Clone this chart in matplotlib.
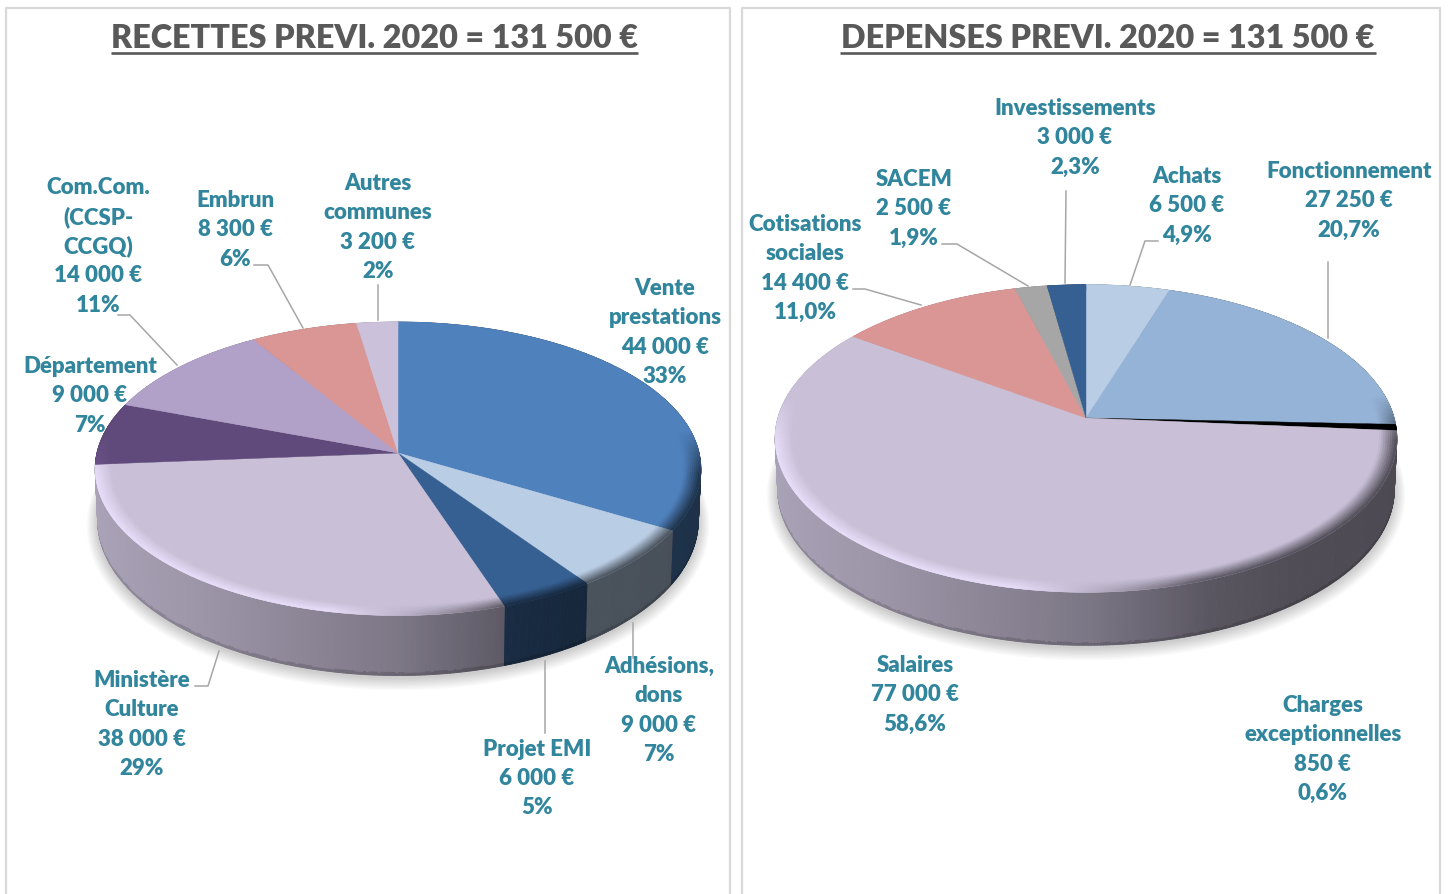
import numpy as np
import matplotlib
matplotlib.use("Agg")
import matplotlib.pyplot as plt
from matplotlib.collections import PolyCollection
from matplotlib.colors import to_rgb

plt.rcParams['font.family'] = ['Lato', 'DejaVu Sans']

# recettes
rec_names = ["Vente\nprestations", "Adhésions,\ndons", "Projet EMI", "Ministère\nCulture",
             "Département", "Com.Com.\n(CCSP-\nCCGQ)", "Embrun", "Autres\ncommunes"]
rec_values = [44000, 9000, 6000, 38000, 9000, 14000, 8300, 3200]
rec_colors = ["#4F81BD", "#B9CDE5", "#376092", "#C9C0D8", "#604A7B", "#B1A0C7", "#D99694", "#CCC1DA"]
rec_label_pos = [(665, 288.5), (659, 666.5), (537, 749), (142, 680.5), (90, 366.5), (98, 187.5), (235, 200.5), (378, 183.5)]
rec_leaders = [None, [(633, 623), (633, 658)], [(545, 661), (545, 733)], [(219, 651), (208, 686), (195, 686)],
               None, [(177, 365), (130, 315), (118, 315)], [(303, 328), (268, 265), (254, 265)],
               [(378, 320), (378, 285)]]

# depenses
dep_names = ["Achats", "Fonctionnement", "Charges\nexceptionnelles", "Salaires",
             "Cotisations\nsociales", "SACEM", "Investissements"]
dep_values = [6500, 27250, 850, 77000, 14400, 2500, 3000]
dep_colors = ["#B9CDE5", "#95B3D7", "#000000", "#C9C0D8", "#D99694", "#A6A6A6", "#376092"]
dep_label_pos = [(1187, 176.5), (1349, 171.5), (1323, 705.5), (915, 665.5), (805, 224.5), (914, 179.5), (1075, 108.5)]
dep_leaders = [[(1130, 285), (1145, 241), (1158, 241)], [(1328, 338), (1328, 262)], None, None,
               [(921, 305), (865, 289), (853, 289)], [(1028, 286), (957, 244), (942, 244)],
               [(1065, 283), (1066, 191)]]

TEAL = "#31859C"
GREY = "#595959"
LEAD = "#A6A6A6"
WEIGHT = 800


def project(theta, r, g, depth=0.0):
    # theta from top, clockwise. simple projective tilt of a circle
    X = r * np.sin(theta)
    Y = r * np.cos(theta)
    den = 1 + g["k"] * Y
    x = g["cx"] + g["rx"] * X / den * (1 - 0.008 * depth)
    y = g["cy"] - g["rs"] * Y / den
    d = g["d_side"] + (g["d_front"] - g["d_side"]) * (-Y)
    return x, y + depth * d


def side_factor(u):
    return np.interp(u, [-1, -.6, 0, .35, .6, 1], [.85, .78, .62, .45, .4, .38])


def draw_pie(ax, values, colors, g):
    fr = np.cumsum([0] + list(values)) / sum(values) * 2 * np.pi
    slices = []
    for i, c in enumerate(colors):
        n = max(2, int(np.degrees(fr[i + 1] - fr[i]) * 2) + 1)
        slices.append((np.linspace(fr[i], fr[i + 1], n + 1), np.array(to_rgb(c))))

    # shadow
    t = np.linspace(0, 2 * np.pi, 361)
    x, y = project(t, 1, g, 1)
    for e in np.linspace(11, 1, 10):
        sx = g["cx"] + (x - g["cx"]) * (1 + e / g["rx"])
        sy = g["cy"] + (y - g["cy"]) * (1 + e / 190) + 2
        ax.fill(sx, sy, color="k", alpha=0.018, lw=0, zorder=1)

    # wall, back to front
    quads, cols, order = [], [], []
    for th, col in slices:
        for a, b in zip(th[:-1], th[1:]):
            m = (a + b) / 2
            u = np.sin(m)
            f = side_factor(u)
            tint = col * f
            for d0, d1, dark in [(0, .95, 1), (.95, 1, .85)]:
                xa, ya = project(a, 1, g, d0)
                xb, yb = project(b, 1, g, d0)
                xc, yc = project(b, 1, g, d1)
                xd, yd = project(a, 1, g, d1)
                quads.append([(xa, ya), (xb, yb), (xc, yc), (xd, yd)])
                cols.append(np.clip(tint * dark, 0, 1))
                order.append(-np.cos(m))
    idx = np.argsort(order)
    pc = PolyCollection([quads[i] for i in idx], facecolors=[cols[i] for i in idx],
                        edgecolors=[cols[i] for i in idx], linewidths=0.7, zorder=2)
    ax.add_collection(pc)

    # top face
    for th, col in slices:
        x, y = project(th, 1, g)
        ax.fill(np.r_[g["cx"], x], np.r_[g["cy"], y], color=col, lw=0.3, zorder=3)

    # bevel on the rim
    radii = np.linspace(.945, 1, 9)
    quads, cols = [], []
    for th, col in slices:
        for a, b in zip(th[:-1], th[1:]):
            m = (a + b) / 2
            Y, u = np.cos(m), np.sin(m)
            facing = np.clip((0.15 - Y) / 0.3, 0, 1)
            s = np.clip((u + .2) / .5, 0, 1)
            edge = np.clip(col * 1.16, 0, 1) * (1 - s) + col * side_factor(u) * s
            for r0, r1 in zip(radii[:-1], radii[1:]):
                w = facing * ((r0 + r1) / 2 - .945) / .055
                xa, ya = project(a, r0, g)
                xb, yb = project(b, r0, g)
                xc, yc = project(b, r1, g)
                xd, yd = project(a, r1, g)
                quads.append([(xa, ya), (xb, yb), (xc, yc), (xd, yd)])
                cols.append(col * (1 - w) + edge * w)
    ax.add_collection(PolyCollection(quads, facecolors=cols, edgecolors=cols, linewidths=0.4, zorder=4))


def value_str(v):
    return f"{v:,}".replace(",", " ") + " €"


fig = plt.figure(figsize=(14.48, 8.94), dpi=100)
ax = fig.add_axes([0, 0, 1, 1])
ax.set_xlim(0, 1448)
ax.set_ylim(894, 0)
ax.axis("off")

# panel frames, no bottom side
for x0, x1 in [(6, 730), (742, 1440)]:
    ax.plot([x0, x0, x1, x1], [894, 8, 8, 894], color="#D9D9D9", lw=1.6, zorder=0)

left = dict(cx=398, cy=453, rx=301, rs=145, k=.1077, d_side=50, d_front=60)
right = dict(cx=1086, cy=418, rx=308, rs=151, k=.1335, d_side=50, d_front=53)
draw_pie(ax, rec_values, rec_colors, left)
draw_pie(ax, dep_values, dep_colors, right)

# titles
for txt, xc, x0, x1 in [("RECETTES PREVI. 2020 = 131 500 €", 374.5, 111, 638),
                        ("DEPENSES PREVI. 2020 = 131 500 €", 1108, 840, 1376)]:
    ax.text(xc, 48, txt, ha="center", va="baseline", fontsize=23.3, fontweight=WEIGHT, color=GREY, zorder=6)
    ax.plot([x0, x1], [52.5, 52.5], color=GREY, lw=1.9, solid_capstyle="butt", zorder=6)

# labels
for names, values, pos in [(rec_names, rec_values, rec_label_pos), (dep_names, dep_values, dep_label_pos)]:
    total = sum(values)
    for name, v, (x, y) in zip(names, values, pos):
        pct = v / total * 100
        p = f"{pct:.0f}%" if names is rec_names else f"{pct:.1f}%".replace(".", ",")
        for j, line in enumerate(name.split("\n") + [value_str(v), p]):
            ax.text(x, y + j * 29.4, line, ha="center", va="center", fontsize=16,
                    fontweight=WEIGHT, color=TEAL, zorder=6)

for leaders in (rec_leaders, dep_leaders):
    for pts in leaders:
        if pts:
            ax.plot(*zip(*pts), color=LEAD, lw=1.1, zorder=5)

fig.savefig("out.png", dpi=100)
